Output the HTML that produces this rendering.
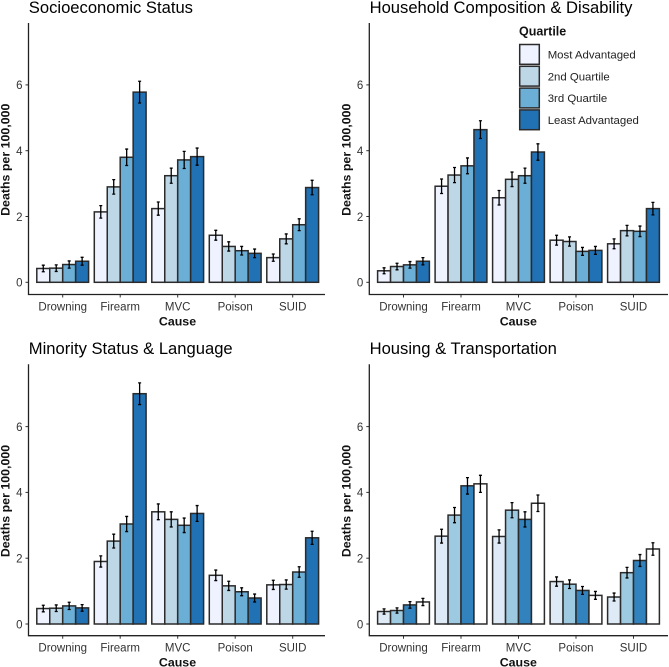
<!DOCTYPE html>
<html>
<head>
<meta charset="utf-8">
<style>
html,body{margin:0;padding:0;background:#fff;width:669px;height:667px;overflow:hidden}
svg{display:block;font-family:"Liberation Sans",Arial,sans-serif}
</style>
</head>
<body>
<svg id="chart" width="669" height="667" viewBox="0 0 669 667" xmlns="http://www.w3.org/2000/svg"></svg>
<script>
const categories = ["Drowning","Firearm","MVC","Poison","SUID"];
const yTicks = [0,2,4,6];
const legendLabels = ["Most Advantaged","2nd Quartile","3rd Quartile","Least Advantaged"];
const panelTitles = ["Socioeconomic Status","Household Composition & Disability","Minority Status & Language","Housing & Transportation"];

const sesValues = [[.42,.43,.54,.64],[2.14,2.9,3.8,5.78],[2.24,3.24,3.72,3.82],[1.43,1.09,.96,.88],[.75,1.32,1.75,2.88]];
const sesErrors = [[.1,.1,.11,.12],[.19,.22,.25,.33],[.2,.23,.26,.26],[.15,.14,.13,.13],[.11,.15,.18,.22]];
const householdValues = [[.35,.48,.53,.64],[2.92,3.26,3.54,4.64],[2.57,3.13,3.24,3.96],[1.28,1.24,.94,.97],[1.17,1.57,1.55,2.24]];
const householdErrors = [[.09,.1,.1,.11],[.22,.23,.24,.27],[.22,.22,.23,.25],[.15,.14,.12,.12],[.15,.16,.16,.19]];
const minorityValues = [[.47,.48,.55,.49],[1.9,2.52,3.04,7.0],[3.41,3.18,3.0,3.36],[1.48,1.16,.98,.79],[1.19,1.2,1.58,2.62]];
const minorityErrors = [[.1,.1,.11,.1],[.17,.21,.23,.33],[.24,.23,.22,.24],[.16,.14,.12,.12],[.14,.14,.16,.2]];
const housingValues = [[.38,.41,.58,.67],[2.67,3.31,4.2,4.26],[2.66,3.46,3.18,3.67],[1.29,1.21,1.02,.87],[.82,1.56,1.93,2.28]];
const housingErrors = [[.08,.08,.1,.11],[.21,.23,.25,.26],[.2,.23,.23,.25],[.14,.13,.12,.12],[.12,.16,.18,.19]];

const palette = ["#eff3ff","#bdd7e7","#6baed6","#2171b5"];
const housingPalette = ["#deebf7","#9ecae1","#3182bd","#ffffff"];

const NS = "http://www.w3.org/2000/svg";
const svg = document.getElementById("chart");

function mk(parent, tag, attrs, text) {
  const el = document.createElementNS(NS, tag);
  for (const k in attrs) el.setAttribute(k, attrs[k]);
  if (text !== undefined) el.textContent = text;
  parent.appendChild(el);
  return el;
}

const layouts = [
  {left:28.5, right:325, top:23, bottom:294.5, zero:282.3, titleY:13},
  {left:369.3, right:668, top:23, bottom:294.5, zero:282.3, titleY:13},
  {left:28.5, right:325, top:364.3, bottom:635.7, zero:624, titleY:354},
  {left:369.3, right:668, top:364.3, bottom:635.7, zero:624, titleY:354}
];
const allValues = [sesValues, householdValues, minorityValues, housingValues];
const allErrors = [sesErrors, householdErrors, minorityErrors, housingErrors];
const allPalettes = [palette, palette, palette, housingPalette];

const UNIT = 32.9, STEP = 57.5, GROUP = 51.8;

function drawPanel(p) {
  const L = layouts[p];
  const g = mk(svg, "g", {});
  
  
  const yScale = v => L.zero - v * UNIT;
  const xScale = i => L.left + 34.2 + i * STEP;

  const title = mk(g, "text", {x: L.left + 0.3, y: L.titleY, "font-size": 16.6, fill: "#000"}, panelTitles[p]);
  
  

  categories.forEach((c, i) => {
    const barW = GROUP / 4;
    const x0 = xScale(i) - GROUP / 2;
    allValues[p][i].forEach((v, j) => {
      const bar = mk(g, "rect", {x: x0 + j * barW, y: yScale(v), width: barW, height: L.zero - yScale(v),
        fill: allPalettes[p][j], stroke: "#2b2b2b", "stroke-width": 1.5});
      
      
    });
    allValues[p][i].forEach((v, j) => {
      const e = allErrors[p][i][j];
      const cx = x0 + (j + 0.5) * barW;
      const hi = yScale(v + e), lo = yScale(v - e);
      const eb = mk(g, "path", {d: `M${cx-1.5} ${hi}H${cx+1.5}M${cx} ${hi}V${lo}M${cx-1.5} ${lo}H${cx+1.5}`,
        fill: "none", stroke: "#000", "stroke-width": 1.3});
      
      
    });
    const tick = mk(g, "line", {x1: xScale(i), x2: xScale(i), y1: L.bottom, y2: L.bottom + 3, stroke: "#333", "stroke-width": 1});
    
    
    const lab = mk(g, "text", {x: xScale(i), y: L.bottom + 15.8, "text-anchor": "middle", "font-size": 11.5, fill: "#333"}, c);
    
    
  });

  yTicks.forEach(t => {
    const tick = mk(g, "line", {x1: L.left - 3, x2: L.left, y1: yScale(t), y2: yScale(t), stroke: "#333", "stroke-width": 1});
    
    
    const lab = mk(g, "text", {x: L.left - 6, y: yScale(t) + 4.3, "text-anchor": "end", "font-size": 11.5, fill: "#333"}, t);
    
    
  });

  const axis = mk(g, "path", {d: `M${L.left} ${L.top}V${L.bottom}H${L.right}`, fill: "none", stroke: "#222", "stroke-width": 1.3});
  
  

  const xt = mk(g, "text", {x: L.left + 149, y: L.bottom + 30.8, "text-anchor": "middle", "font-size": 12.4, "font-weight": "bold", fill: "#111"}, "Cause");
  
  
  const cy = (L.top + L.bottom) / 2 + 1;
  const yt = mk(g, "text", {x: L.left - 19, y: cy, "text-anchor": "middle", "font-size": 12.4, "font-weight": "bold", fill: "#111",
    transform: `rotate(-90 ${L.left - 19} ${cy})`}, "Deaths per 100,000");
  
  
}
[0,1,2,3].forEach(drawPanel);

const legend = mk(svg, "g", {});


const legendTitle = mk(legend, "text", {x: 519, y: 35.5, "font-size": 12.5, "font-weight": "bold", fill: "#111"}, "Quartile");


legendLabels.forEach((t, i) => {
  const y = 44.5 + i * 21.8;
  const sw = mk(legend, "rect", {x: 519.7, y: y, width: 19.6, height: 19.8, fill: palette[i], stroke: "#2b2b2b", "stroke-width": 1.5});
  
  
  const lb = mk(legend, "text", {x: 547.7, y: y + 14, "font-size": 11.4, fill: "#222"}, t);
  
  
});
</script>
</body>
</html>
